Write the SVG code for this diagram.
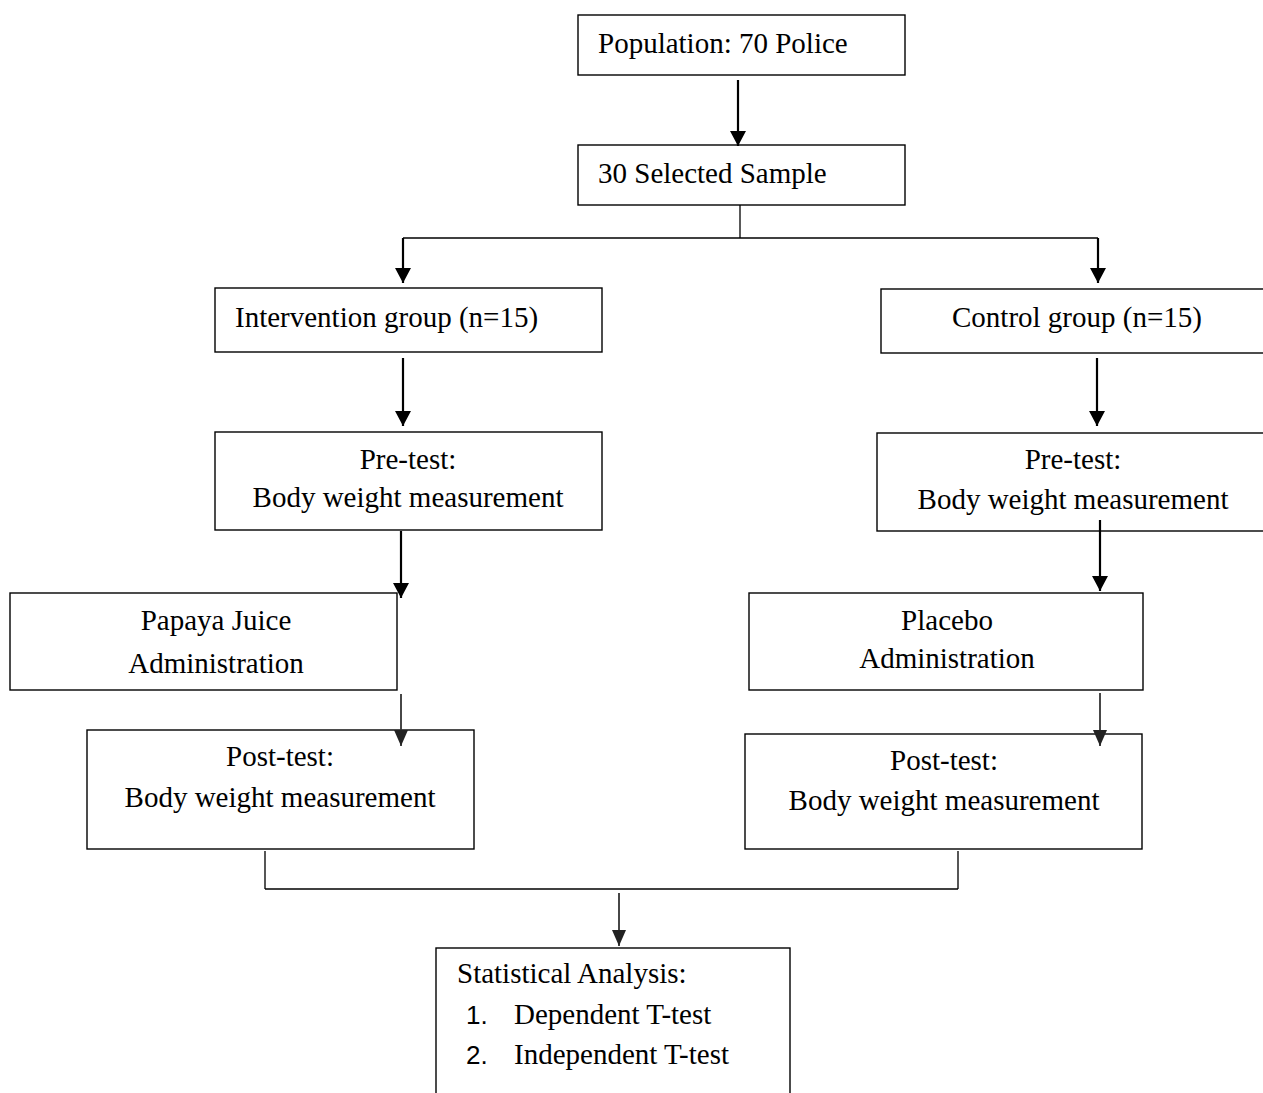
<svg xmlns="http://www.w3.org/2000/svg" width="1263" height="1093" viewBox="0 0 1263 1093">
<style>
.box{fill:#fff;stroke:#000;stroke-width:1.4}
.t{font-family:"Liberation Serif","Times New Roman",serif;font-size:29px;fill:#000}
.c{text-anchor:middle}
.n{font-family:"Liberation Sans",Arial,sans-serif;font-size:26px;fill:#000}
.ln{stroke:#000;stroke-width:1.3;fill:none}
.ar{stroke:#000;stroke-width:2.2;fill:none;marker-end:url(#ah)}
.ag{stroke:#333;stroke-width:1.8;fill:none;marker-end:url(#ahg)}
.gr{stroke:#444;stroke-width:1.8;fill:none}
</style>
<defs>
<marker id="ah" viewBox="0 0 15 16" refX="15" refY="8" markerWidth="15" markerHeight="16" markerUnits="userSpaceOnUse" orient="auto">
<path d="M0,0 L15,8 L0,16 z" fill="#000"/>
</marker>
<marker id="ahg" viewBox="0 0 16 14" refX="16" refY="7" markerWidth="16" markerHeight="14" markerUnits="userSpaceOnUse" orient="auto">
<path d="M0,0 L16,7 L0,14 z" fill="#222"/>
</marker>
</defs>
<rect width="1263" height="1093" fill="#fff"/>
<g id="n-population"><rect class="box" x="578" y="15" width="327" height="60"/><text class="t" x="598" y="53">Population: 70 Police</text></g>
<g id="n-sample"><rect class="box" x="578" y="145" width="327" height="60"/><text class="t" x="598" y="183">30 Selected Sample</text></g>
<g id="n-intervention"><rect class="box" x="215" y="288" width="387" height="64"/><text class="t" x="235" y="327">Intervention group (n=15)</text></g>
<g id="n-control"><rect class="box" x="881" y="289" width="385" height="64"/><text class="t" x="952" y="327">Control group (n=15)</text></g>
<g id="n-pre-left"><rect class="box" x="215" y="432" width="387" height="98"/><text class="t c" x="408" y="469">Pre-test:</text><text class="t c" x="408" y="507">Body weight measurement</text></g>
<g id="n-pre-right"><rect class="box" x="877" y="433" width="389" height="98"/><text class="t c" x="1073" y="469">Pre-test:</text><text class="t c" x="1073" y="509">Body weight measurement</text></g>
<g id="n-papaya"><rect class="box" x="10" y="593" width="387" height="97"/><text class="t c" x="216" y="630">Papaya Juice</text><text class="t c" x="216" y="673">Administration</text></g>
<g id="n-placebo"><rect class="box" x="749" y="593" width="394" height="97"/><text class="t c" x="947" y="630">Placebo</text><text class="t c" x="947" y="668">Administration</text></g>
<g id="n-post-left"><rect class="box" x="87" y="730" width="387" height="119"/><text class="t c" x="280" y="766">Post-test:</text><text class="t c" x="280" y="807">Body weight measurement</text></g>
<g id="n-post-right"><rect class="box" x="745" y="734" width="397" height="115"/><text class="t c" x="944" y="770">Post-test:</text><text class="t c" x="944" y="810">Body weight measurement</text></g>
<g id="n-stats"><rect class="box" x="436" y="948" width="354" height="150"/><text class="t" x="457" y="983">Statistical Analysis:</text><text class="n" x="466" y="1024">1.</text><text class="t" x="514" y="1024">Dependent T-test</text><text class="n" x="466" y="1064">2.</text><text class="t" x="514" y="1064">Independent T-test</text></g>
<g id="connectors">
<line class="ar" x1="738" y1="80" x2="738" y2="146"/>
<line class="ln" x1="740" y1="205" x2="740" y2="238"/>
<line class="ln" x1="403" y1="238" x2="1098" y2="238"/>
<line class="ar" x1="403" y1="238" x2="403" y2="283"/>
<line class="ar" x1="1098" y1="238" x2="1098" y2="283"/>
<line class="ar" x1="403" y1="358" x2="403" y2="426"/>
<line class="ar" x1="1097" y1="358" x2="1097" y2="426"/>
<line class="ar" x1="401" y1="531" x2="401" y2="598"/>
<line class="ar" x1="1100" y1="520" x2="1100" y2="591"/>
<line class="ag" x1="401" y1="694" x2="401" y2="746"/>
<line class="ag" x1="1100" y1="693" x2="1100" y2="746"/>
<line class="gr" x1="265" y1="851" x2="265" y2="889"/>
<line class="gr" x1="958" y1="851" x2="958" y2="889"/>
<line class="ln" x1="265" y1="889" x2="958" y2="889"/>
<line class="ag" x1="619" y1="893" x2="619" y2="946"/>
</g>
</svg>
